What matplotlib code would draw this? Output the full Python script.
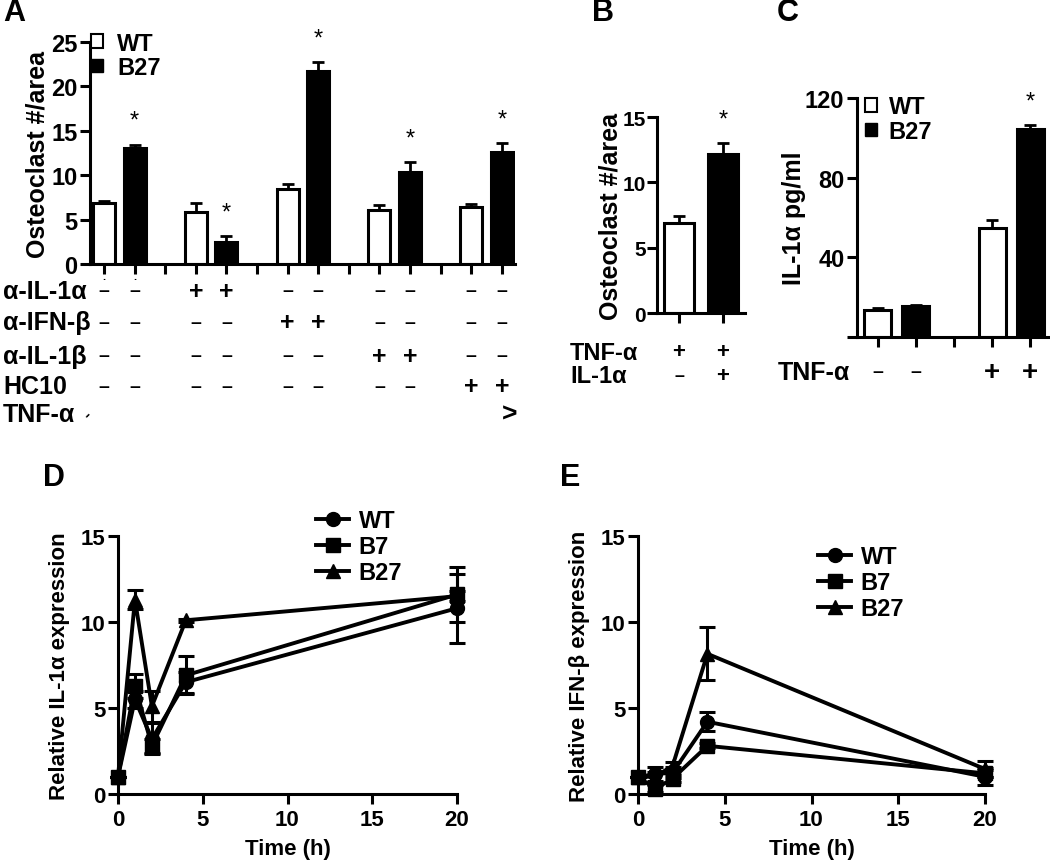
import matplotlib
matplotlib.use("Agg")
import matplotlib.pyplot as plt
from matplotlib.patches import Patch
from matplotlib.lines import Line2D
from matplotlib.transforms import blended_transform_factory

plt.rcParams['font.family'] = ['Liberation Sans', 'DejaVu Sans']
plt.rcParams['font.weight'] = 'bold'
plt.rcParams['axes.linewidth'] = 2.2

# ---- data ----
# panel A: osteoclast counts, WT vs B27 under 5 treatment conditions
a_pos_wt = [0, 3, 6, 9, 12]
a_pos_b27 = [1, 4, 7, 10, 13]
a_wt = [6.9, 5.9, 8.5, 6.1, 6.4]
a_wt_err = [0.25, 1.0, 0.55, 0.5, 0.4]
a_b27 = [13.1, 2.5, 21.7, 10.4, 12.6]
a_b27_err = [0.35, 0.6, 1.0, 1.1, 1.05]
a_rows = ["α-IL-1α", "α-IFN-β", "α-IL-1β", "HC10"]
a_signs = [
    ["–", "–", "+", "+", "–", "–", "–", "–", "–", "–"],
    ["–", "–", "–", "–", "+", "+", "–", "–", "–", "–"],
    ["–", "–", "–", "–", "–", "–", "+", "+", "–", "–"],
    ["–", "–", "–", "–", "–", "–", "–", "–", "+", "+"],
]

# panel B
b_vals = [6.9, 12.2]
b_err = [0.5, 0.8]
b_rows = ["TNF-α", "IL-1α"]
b_signs = [["+", "+"], ["–", "+"]]

# panel C
c_pos_wt = [0, 3]
c_pos_b27 = [1, 4]
c_wt = [13.5, 54.5]
c_wt_err = [1.0, 4.0]
c_b27 = [15.5, 104.5]
c_b27_err = [0.5, 2.0]
c_signs = ["–", "–", "+", "+"]

# panels D, E: time course
times = [0, 1, 2, 4, 20]
d_wt = [1.0, 5.5, 3.2, 6.5, 10.8]
d_wt_err = [0, 0.5, 0.9, 0.6, 2.0]
d_b7 = [1.0, 6.3, 2.8, 6.9, 11.6]
d_b7_err = [0, 0.7, 0.4, 1.1, 1.6]
d_b27 = [1.0, 11.3, 5.1, 10.1, 11.5]
d_b27_err = [0, 0.55, 0.9, 0.1, 0.3]

e_wt = [1.0, 1.15, 1.25, 4.2, 1.0]
e_wt_err = [0, 0.4, 0.3, 0.55, 0.5]
e_b7 = [1.0, 0.3, 0.9, 2.8, 1.2]
e_b7_err = [0, 0.2, 0.2, 0.15, 0.2]
e_b27 = [1.0, 1.0, 1.65, 8.15, 1.45]
e_b27_err = [0, 0.3, 0.2, 1.55, 0.45]

W, H = 1050, 862
fig = plt.figure(figsize=(W / 100, H / 100), dpi=100)


def fx(px):
    return px / W


def fy(py):
    return 1 - py / H


def style_axes(ax, fs):
    ax.spines['top'].set_visible(False)
    ax.spines['right'].set_visible(False)
    ax.tick_params(axis='both', width=2.2, length=7, labelsize=fs, direction='out')
    for lab in ax.get_yticklabels() + ax.get_xticklabels():
        lab.set_fontweight('bold')


def bars(ax, pos, vals, err, color, width):
    ax.bar(pos, vals, width=width, color=color, edgecolor='black', linewidth=2.2, zorder=2)
    ax.errorbar(pos, vals, yerr=[[0] * len(err), err], fmt='none', ecolor='black',
                elinewidth=2, capsize=4.5, capthick=2, zorder=1)


def star(ax, x, top):
    ax.annotate("*", xy=(x, top), xytext=(0, 17), textcoords='offset points',
                ha='center', va='center', fontsize=17, fontweight='normal')


legend_handles = [Patch(facecolor='white', edgecolor='black', linewidth=1.5),
                  Patch(facecolor='black', edgecolor='black')]
leg_font = {'size': 17, 'weight': 'bold'}

# ---------- Panel A ----------
axA = fig.add_axes([fx(90), fy(265), fx(425), fy(43) - fy(265)])
bars(axA, a_pos_wt, a_wt, a_wt_err, 'white', 0.72)
bars(axA, a_pos_b27, a_b27, a_b27_err, 'black', 0.72)
for p, v, e in zip(a_pos_b27, a_b27, a_b27_err):
    star(axA, p, v + e)
axA.set_ylim(0, 25)
axA.set_xlim(-0.46, 13.43)
axA.set_yticks([0, 5, 10, 15, 20, 25])
axA.set_xticks(range(14))
axA.set_xticklabels([])
style_axes(axA, 17)
axA.tick_params(axis='y', pad=2)
axA.set_ylabel("Osteoclast #/area", fontsize=18, fontweight='bold', labelpad=1)
axA.legend(legend_handles, ["WT", "B27"], loc='upper left', bbox_to_anchor=(-0.025, 1.1),
           frameon=False, handlelength=0.5, handleheight=0.5, handletextpad=0.6,
           labelspacing=0.05, prop=leg_font, borderpad=0)

trA = blended_transform_factory(axA.transData, fig.transFigure)
bar_positions = sorted(a_pos_wt + a_pos_b27)
row_y = [292, 323, 357, 387]
for lab, signs, ry in zip(a_rows, a_signs, row_y):
    fig.text(fx(3), fy(ry), lab, fontsize=18, fontweight='bold', va='center', ha='left')
    for p, s in zip(bar_positions, signs):
        axA.text(p, fy(ry), s, transform=trA, ha='center', va='center',
                 fontsize=18 if s == "+" else 14, fontweight='bold')
fig.text(fx(3), fy(415), "TNF-α", fontsize=18, fontweight='bold', va='center', ha='left')
fig.text(fx(87), fy(415), "-", fontsize=12, fontweight='bold', va='center', ha='center', rotation=45)
fig.text(fx(510), fy(415), ">", fontsize=19, fontweight='bold', va='center', ha='center')
for p in a_pos_wt[:1] + a_pos_b27[:1]:
    axA.text(p, fy(277), ".", transform=trA, ha='center', va='center', fontsize=8)

fig.text(fx(3), fy(13), "A", fontsize=22, fontweight='bold', va='center', ha='left')

# ---------- Panel B ----------
axB = fig.add_axes([fx(657), fy(314), fx(88), fy(118) - fy(314)])
axB.bar([0], [b_vals[0]], width=0.68, color='white', edgecolor='black', linewidth=2.2, zorder=2)
axB.bar([1], [b_vals[1]], width=0.68, color='black', edgecolor='black', linewidth=2.2, zorder=2)
axB.errorbar([0, 1], b_vals, yerr=[[0, 0], b_err], fmt='none', ecolor='black',
             elinewidth=2, capsize=4.5, capthick=2, zorder=1)
star(axB, 1, b_vals[1] + b_err[1])
axB.set_ylim(0, 15)
axB.set_xlim(-0.5, 1.5)
axB.set_yticks([0, 5, 10, 15])
axB.set_xticks([0, 1])
axB.set_xticklabels([])
style_axes(axB, 15)
axB.tick_params(axis='y', pad=1)
axB.set_ylabel("Osteoclast #/area", fontsize=18, fontweight='bold', labelpad=0)
trB = blended_transform_factory(axB.transData, fig.transFigure)
for lab, signs, ry in zip(b_rows, b_signs, [353, 377]):
    fig.text(fx(570), fy(ry), lab, fontsize=17, fontweight='bold', va='center', ha='left')
    for p, s in zip([0, 1], signs):
        axB.text(p, fy(ry), s, transform=trB, ha='center', va='center',
                 fontsize=16 if s == "+" else 13, fontweight='bold')
fig.text(fx(592), fy(13), "B", fontsize=22, fontweight='bold', va='center', ha='left')

# ---------- Panel C ----------
axC = fig.add_axes([fx(857), fy(338), fx(191), fy(99) - fy(338)])
bars(axC, c_pos_wt, c_wt, c_wt_err, 'white', 0.71)
bars(axC, c_pos_b27, c_b27, c_b27_err, 'black', 0.71)
star(axC, c_pos_b27[1], c_b27[1] + c_b27_err[1])
axC.set_ylim(0, 120)
axC.set_xlim(-0.55, 4.47)
axC.set_yticks([0, 40, 80, 120])
axC.set_yticklabels(["", "40", "80", "120"])
axC.set_xticks(range(5))
axC.set_xticklabels([])
style_axes(axC, 17)
axC.tick_params(axis='y', pad=2)
axC.set_ylabel("IL-1α pg/ml", fontsize=18, fontweight='bold', labelpad=-1)
axC.legend(legend_handles, ["WT", "B27"], loc='upper left', bbox_to_anchor=(-0.02, 1.06),
           frameon=False, handlelength=0.5, handleheight=0.5, handletextpad=0.5,
           labelspacing=0.05, prop=leg_font, borderpad=0)
trC = blended_transform_factory(axC.transData, fig.transFigure)
fig.text(fx(778), fy(373), "TNF-α", fontsize=18, fontweight='bold', va='center', ha='left')
for p, s in zip(sorted(c_pos_wt + c_pos_b27), c_signs):
    axC.text(p, fy(373), s, transform=trC, ha='center', va='center',
             fontsize=20 if s == "+" else 14, fontweight='bold')
fig.text(fx(777), fy(13), "C", fontsize=22, fontweight='bold', va='center', ha='left')


# ---------- Panels D, E ----------
def timecourse(ax, series, ylabel):
    markers = ['o', 's', '^']
    for (vals, err, name), m in zip(series, markers):
        ax.errorbar(times, vals, yerr=err, color='black', marker=m, markersize=10,
                    linewidth=2.8, elinewidth=2.2, capsize=6, capthick=2.2,
                    label=name, clip_on=False, zorder=3)
    ax.set_xlim(0, 20)
    ax.set_ylim(0, 15)
    ax.set_xticks([0, 5, 10, 15, 20])
    ax.set_yticks([0, 5, 10, 15])
    style_axes(ax, 16)
    ax.tick_params(axis='y', pad=2)
    ax.set_xlabel("Time (h)", fontsize=16, fontweight='bold', labelpad=6)
    ax.set_ylabel(ylabel, fontsize=16, fontweight='bold', labelpad=8)
    handles = [Line2D([], [], color='black', marker=m, markersize=10, linewidth=2.8)
               for m in markers]
    return handles


leg_kw = dict(loc='upper left', frameon=False, handlelength=1.4, handletextpad=0.4,
              labelspacing=0.12, prop=leg_font, borderpad=0)

axD = fig.add_axes([fx(118), fy(795), fx(339), fy(537) - fy(795)])
hD = timecourse(axD, [(d_wt, d_wt_err, "WT"), (d_b7, d_b7_err, "B7"),
                      (d_b27, d_b27_err, "B27")], "Relative IL-1α expression")
axD.legend(hD, ["WT", "B7", "B27"], bbox_to_anchor=(0.55, 1.15), **leg_kw)
fig.text(fx(43), fy(478), "D", fontsize=22, fontweight='bold', va='center', ha='left')

axE = fig.add_axes([fx(638), fy(795), fx(347), fy(537) - fy(795)])
hE = timecourse(axE, [(e_wt, e_wt_err, "WT"), (e_b7, e_b7_err, "B7"),
                      (e_b27, e_b27_err, "B27")], "Relative IFN-β expression")
axE.legend(hE, ["WT", "B7", "B27"], bbox_to_anchor=(0.485, 1.01), **leg_kw)
fig.text(fx(560), fy(478), "E", fontsize=22, fontweight='bold', va='center', ha='left')

fig.savefig("out.png", dpi=100, facecolor='white')
